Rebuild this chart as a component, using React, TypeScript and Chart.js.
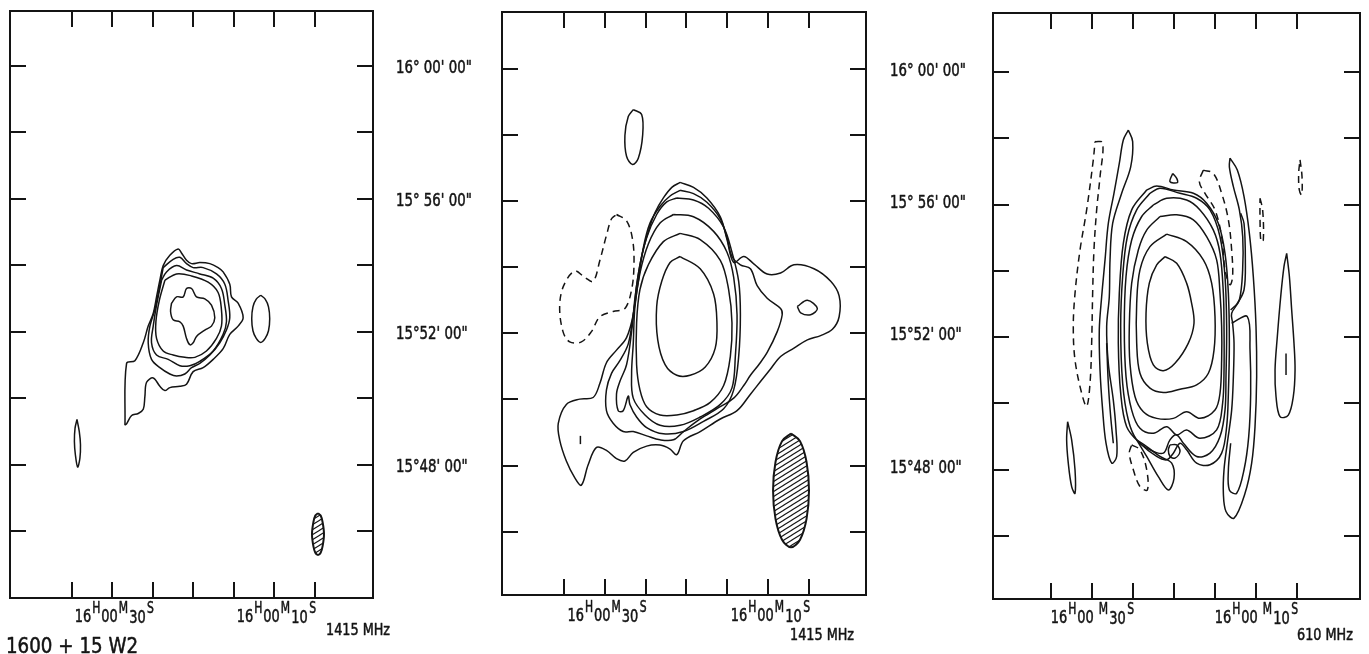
import React, { useEffect, useRef } from "react";
import { Chart, registerables } from "chart.js";

Chart.register(...registerables);

type Pt = [number, number];

// ---------- axis values ----------
const RA_TICKS = [40, 35, 30, 25, 20, 15, 10]; // seconds of RA (16h00m..s)
const DEC_TICKS = [60, 58, 56, 54, 52, 50, 48, 46]; // arcmin above 15 deg
const DEC_LABEL_VALUES = [60, 56, 52, 48];
const DEC_LABEL_TEXTS = ["16\u00b0 00' 00\"", "15\u00b0 56' 00\"", "15\u00b052' 00\"", "15\u00b048' 00\""];
const RA_LABEL_VALUES = [30, 10];
const RA_LABEL_SECONDS = ["30", "10"];
const FREQ_LABELS = ["1415 MHz", "1415 MHz", "610 MHz"];
const SOURCE_NAME = "1600 + 15 W2";

// ---------- panel 1 (1415 MHz) contours: [RA s, Dec arcmin] ----------
const P1_C1: Pt[] = [[33.46,49.19],[33.26,51.05],[32.23,51.13],[31.2,51.67],[30.59,52.17],[29.97,52.55],[29.56,53.05],[29.15,53.55],[28.74,53.99],[27.92,54.3],[26.89,54.49],[26.48,54.37],[25.86,54.15],[25.24,54.05],[24.22,54.08],[22.98,54.05],[21.96,53.93],[21.34,53.8],[20.52,53.43],[20.31,53.05],[19.49,52.86],[18.87,52.42],[19.49,52.17],[20.52,51.92],[21.34,51.49],[22.57,51.17],[23.81,50.92],[25.04,50.8],[25.86,50.42],[26.68,50.36],[27.92,50.32],[28.53,50.23],[29.15,50.36],[29.97,50.61],[30.79,50.48],[31.0,50.05],[31.2,49.67],[31.82,49.54],[32.64,49.48],[33.26,49.23]];
const P1_C2: Pt[] = [[28.74,53.93],[27.51,54.18],[26.68,54.24],[25.86,54.05],[25.04,53.93],[23.81,53.93],[22.16,53.74],[21.13,53.43],[20.72,52.93],[20.52,52.42],[20.93,52.05],[21.75,51.67],[22.98,51.3],[24.22,51.05],[25.24,50.92],[26.07,50.73],[27.09,50.67],[27.92,50.73],[29.15,50.92],[30.18,51.17],[30.59,51.67],[30.38,52.17],[29.77,52.67],[29.23,53.3]];
const P1_C3: Pt[] = [[28.94,53.55],[28.33,53.8],[27.09,53.99],[25.86,53.86],[24.22,53.74],[22.57,53.61],[21.55,53.3],[21.13,52.8],[20.93,52.3],[21.34,51.92],[22.57,51.42],[24.22,51.11],[25.45,50.98],[26.68,50.98],[28.12,51.17],[29.56,51.3],[30.18,51.67],[29.97,52.17],[29.56,52.8]];
const P1_C4: Pt[] = [[28.53,53.55],[27.09,53.74],[25.24,53.68],[23.19,53.49],[21.96,53.18],[21.55,52.67],[21.55,52.17],[22.16,51.8],[23.4,51.42],[24.83,51.23],[26.07,51.23],[27.51,51.3],[28.74,51.42],[29.56,51.8],[29.64,52.3],[29.23,52.93]];
const P1_C5: Pt[] = [[27.71,52.86],[27.09,53.05],[26.27,53.05],[25.86,53.3],[25.24,53.3],[24.63,53.05],[23.6,52.99],[22.78,52.8],[22.37,52.42],[22.78,52.17],[23.6,52.05],[24.63,51.86],[25.04,51.67],[25.45,51.61],[25.86,51.8],[26.27,52.17],[26.68,52.3],[27.51,52.36],[27.83,52.61]];
const P1_EAST: Pt[] = [[16.7,53.1],[16.15,52.98],[15.74,52.75],[15.59,52.39],[15.74,52.03],[16.15,51.8],[16.7,51.68],[17.25,51.8],[17.66,52.03],[17.81,52.39],[17.66,52.75],[17.25,52.98]];
const P1_WEST: Pt[] = [[39.38,49.36],[39.1,49.0],[38.95,48.6],[39.02,48.2],[39.3,47.93],[39.58,48.3],[39.7,48.7],[39.62,49.1]];
const P1_BEAM: Pt[] = [[9.63,46.54],[9.3,46.47],[9.06,46.27],[8.89,45.91],[9.06,45.55],[9.3,45.35],[9.63,45.28],[9.96,45.35],[10.2,45.55],[10.37,45.91],[10.2,46.27],[9.96,46.47]];

// ---------- panel 2 (1415 MHz) ----------
const P2_NORTH: Pt[] = [[31.52,58.76],[30.49,58.61],[30.37,57.98],[30.9,57.29],[31.6,57.1],[32.34,57.35],[32.54,57.98],[32.13,58.55]];
const P2_NEG: Pt[] = [[33.57,55.59],[32.34,55.4],[31.6,54.83],[31.43,54.07],[31.72,53.32],[32.54,52.75],[33.98,52.66],[35.61,52.5],[36.64,52.05],[37.87,51.74],[39.3,51.74],[40.12,52.05],[40.53,52.81],[40.04,53.44],[38.69,53.88],[37.46,53.69],[36.43,53.57],[35.61,54.2],[34.8,54.96],[34.18,55.46]];
const P2_M1: Pt[] = [[25.78,54.32],[23.32,53.95],[21.68,53.19],[21.27,52.31],[21.48,51.55],[22.7,50.98],[24.55,50.73],[26.19,50.73],[27.62,51.05],[28.52,51.8],[28.65,52.81],[28.03,53.57],[27.01,54.14]];
const P2_M2: Pt[] = [[25.78,55.02],[23.32,54.83],[20.86,54.2],[19.84,53.32],[19.43,52.31],[19.63,51.3],[20.45,50.42],[22.09,49.91],[24.14,49.66],[26.19,49.53],[28.24,49.53],[29.88,49.78],[30.7,50.29],[31.11,51.05],[31.11,52.31],[30.7,53.32],[29.67,54.07],[27.83,54.77]];
const P2_M3: Pt[] = [[26.6,55.59],[24.14,55.52],[21.68,55.08],[20.04,54.45],[19.22,53.69],[18.81,52.56],[19.02,51.3],[19.43,50.35],[20.86,49.85],[23.32,49.47],[25.78,49.22],[28.24,49.22],[30.08,49.53],[31.52,50.04],[31.72,50.79],[31.52,51.68],[31.31,52.81],[30.7,53.82],[29.67,54.7],[28.24,55.33]];
const P2_M4: Pt[] = [[26.19,56.09],[24.14,56.03],[22.3,55.78],[20.45,55.21],[19.43,54.45],[18.61,53.57],[18.4,52.56],[18.61,51.3],[19.22,50.29],[20.45,49.72],[22.91,49.34],[25.37,49.03],[27.83,48.96],[29.88,49.15],[31.11,49.47],[31.93,49.85],[32.13,50.1],[32.75,49.66],[33.36,49.66],[33.57,50.16],[33.16,50.54],[32.34,51.05],[31.72,52.05],[31.31,53.06],[30.7,54.07],[29.88,54.89],[28.65,55.59],[27.42,55.97]];
const P2_M5: Pt[] = [[25.78,56.32],[24.14,56.22],[22.5,55.96],[20.86,55.46],[20.04,54.89],[19.43,54.32],[18.4,54.07],[17.17,53.95],[16.35,53.44],[15.12,53.06],[13.48,52.75],[13.28,52.56],[13.89,52.05],[15.12,51.42],[16.15,51.05],[17.17,50.73],[17.99,50.42],[19.22,50.04],[21.27,49.72],[23.32,49.41],[25.37,49.03],[26.6,48.78],[28.24,48.78],[29.88,48.9],[31.52,49.03],[32.75,49.03],[33.98,49.28],[34.8,49.66],[34.8,50.29],[34.18,50.79],[33.16,51.17],[32.13,51.68],[31.52,52.56],[30.9,53.57],[30.29,54.58],[29.47,55.33],[28.24,55.84],[27.01,56.15]];
const P2_M6: Pt[] = [[25.78,56.56],[24.14,56.41],[22.5,56.09],[20.86,55.52],[20.04,54.83],[19.22,54.14],[17.99,54.32],[16.76,54.1],[15.12,53.79],[13.48,53.82],[11.84,54.07],[9.39,53.95],[7.34,53.57],[6.31,53.13],[6.31,52.5],[7.13,52.12],[8.57,51.93],[10.2,51.8],[11.84,51.55],[13.48,51.3],[14.71,50.92],[15.94,50.54],[17.17,50.16],[18.81,49.66],[20.86,49.41],[23.32,49.03],[25.37,48.75],[26.19,48.33],[27.01,48.5],[28.24,48.62],[29.88,48.59],[31.52,48.4],[32.54,48.14],[33.57,48.21],[34.8,48.46],[36.02,48.55],[37.05,48.02],[37.87,47.41],[38.69,47.64],[39.71,48.14],[40.53,48.78],[40.7,49.28],[39.71,49.85],[38.07,50.01],[36.43,50.06],[35.61,50.48],[34.8,51.11],[33.57,51.49],[32.34,51.87],[31.52,52.56],[31.11,53.44],[30.49,54.32],[29.67,55.08],[28.85,55.65],[27.83,56.09],[26.8,56.41]];
const P2_LOOP: Pt[] = [[11.43,52.81],[10.2,53.0],[8.98,52.75],[9.8,52.56],[11.02,52.62]];
const P2_BIT: Pt[] = [[37.99,48.9],[37.99,48.65]];
const P2_BEAM: Pt[] = [[12.2,48.97],[11.1,48.74],[10.3,48.11],[10.0,47.25],[10.3,46.39],[11.1,45.76],[12.2,45.53],[13.3,45.76],[14.1,46.39],[14.4,47.25],[14.1,48.11],[13.3,48.74]];

// ---------- panel 3 (610 MHz) ----------
const P3_K1: Pt[] = [[26.1,54.43],[24.67,54.23],[23.46,53.63],[22.85,53.02],[22.56,52.42],[23.25,51.82],[24.88,51.21],[26.3,50.99],[27.52,51.16],[28.25,51.82],[28.41,52.72],[28.01,53.63],[27.11,54.18]];
const P3_K2: Pt[] = [[25.89,55.11],[23.46,54.88],[21.42,54.33],[20.41,53.63],[20.0,52.62],[20.12,51.61],[20.81,50.91],[22.24,50.56],[24.27,50.43],[26.3,50.33],[27.93,50.46],[29.15,50.91],[29.55,51.82],[29.55,53.02],[29.15,54.03],[27.93,54.73]];
const P3_K3: Pt[] = [[26.71,55.64],[24.67,55.69],[22.64,55.54],[21.02,55.03],[19.8,54.33],[19.39,53.32],[19.19,52.32],[19.19,51.31],[19.39,50.31],[20.0,49.8],[21.83,49.55],[23.46,49.75],[25.08,49.55],[27.11,49.55],[28.74,49.75],[29.76,50.21],[30.37,51.21],[30.45,52.32],[30.16,53.63],[29.35,54.63],[28.33,55.23]];
const P3_K4: Pt[] = [[27.52,55.99],[25.89,56.19],[23.46,56.14],[21.83,55.84],[20.2,55.23],[19.39,54.53],[18.98,53.32],[18.9,52.32],[18.9,51.01],[19.07,50.01],[19.8,49.2],[21.83,48.95],[23.46,49.2],[24.67,49.05],[25.89,49.3],[27.52,49.1],[29.15,49.25],[30.16,49.8],[30.85,50.81],[31.06,52.32],[30.85,53.83],[30.16,54.93],[28.94,55.64]];
const P3_K5: Pt[] = [[27.93,56.34],[26.71,56.49],[24.27,56.34],[22.24,56.19],[20.61,55.84],[19.39,55.03],[18.78,53.83],[18.58,52.32],[18.66,50.81],[18.78,49.8],[19.39,49.0],[20.61,48.5],[22.24,48.4],[23.86,48.8],[24.67,49.05],[25.49,48.9],[26.3,48.5],[27.93,48.6],[29.55,48.9],[30.57,49.5],[31.26,50.61],[31.5,52.32],[31.26,53.83],[30.69,55.03],[29.55,55.84]];
const P3_K6: Pt[] = [[28.33,56.44],[27.11,56.56],[25.08,56.44],[22.64,56.34],[21.02,56.04],[19.59,55.43],[18.78,54.53],[18.37,53.32],[18.25,51.82],[18.37,50.31],[18.58,49.3],[19.19,48.5],[20.61,48.15],[22.24,48.2],[23.46,48.6],[24.27,48.8],[25.08,48.5],[25.89,48.3],[27.11,48.4],[29.15,48.8],[30.77,49.3],[31.5,50.31],[31.79,51.82],[31.67,53.32],[31.18,54.83],[30.16,55.84]];
const P3_RING: Pt[] = [[25.49,48.75],[24.67,48.75],[24.27,48.55],[24.88,48.35],[25.49,48.4],[25.69,48.6]];
const P3_TAIL: Pt[] = [[29.55,48.9],[28.33,48.4],[26.91,47.79],[25.69,47.39],[25.0,47.74],[25.28,48.2],[26.71,48.4],[28.33,48.7]];
const P3_EAST_OUT: Pt[] = [[18.17,57.4],[17.28,57.04],[16.46,56.24],[15.81,55.13],[15.33,53.83],[15.0,52.32],[14.92,50.81],[15.12,49.3],[15.53,48.2],[16.34,47.29],[17.68,46.54],[18.66,46.74],[18.98,47.29],[18.9,48.0],[18.5,48.8],[17.97,49.8],[17.76,50.81],[17.68,51.82],[17.85,52.42],[17.97,52.72],[17.03,53.12],[16.63,54.03],[16.62,55.03],[17.03,55.84],[17.76,56.54],[18.25,57.14]];
const P3_EAST_IN1: Pt[] = [[16.87,55.74],[16.46,55.43],[16.3,54.33],[16.46,53.43],[17.28,53.02],[18.09,52.82]];
const P3_EAST_IN2: Pt[] = [[17.97,52.42],[16.06,52.62],[15.73,51.61],[15.65,50.31],[15.89,49.0],[16.46,48.0],[17.36,47.29],[18.25,47.39],[18.37,48.0],[18.09,48.8]];
const P3_NEG_E: Pt[] = [[21.42,57.04],[20.2,56.94],[19.19,56.34],[18.37,55.54],[17.97,54.63],[17.85,53.83],[18.17,53.58],[18.78,54.03],[19.19,55.03],[20.0,55.84],[21.22,56.34],[21.91,56.69]];
const P3_NEG_W: Pt[] = [[34.63,57.9],[33.7,57.87],[34.02,56.84],[34.43,55.84],[34.76,54.63],[34.92,53.32],[35.04,51.82],[35.24,50.61],[35.65,49.91],[36.26,50.31],[37.07,51.31],[37.28,52.32],[37.07,53.32],[36.46,54.63],[35.65,55.84],[34.84,57.35]];
const P3_WEST_LOBE: Pt[] = [[30.57,58.25],[30.04,57.9],[30.28,57.14],[31.38,56.34],[32.48,55.43],[32.8,54.33],[32.89,53.22],[33.21,52.32],[33.01,51.21],[32.4,50.1],[32.07,49.2],[31.99,48.4],[32.6,48.2],[33.29,48.8],[33.7,49.8],[34.02,51.01],[34.11,52.22],[33.82,53.22],[33.41,54.33],[33.01,55.43],[32.32,56.34],[31.67,57.24],[31.18,57.95]];
const P3_WEST_IN: Pt[] = [[33.21,51.82],[33.01,50.61],[32.72,49.6],[32.4,48.8]];
const P3_FAR_W: Pt[] = [[37.97,49.45],[37.48,48.9],[37.07,48.0],[37.07,47.29],[37.48,47.49],[37.89,48.2],[38.09,48.9]];
const P3_NEG_S: Pt[] = [[30.16,48.75],[29.15,48.6],[28.33,48.0],[28.25,47.39],[29.15,47.49],[29.96,48.0],[30.45,48.5]];
const P3_NORTH_BIT: Pt[] = [[25.16,56.94],[24.67,56.79],[24.59,56.66],[25.49,56.69]];
const P3_NEG_E2: Pt[] = [[14.51,56.19],[14.19,55.84],[14.11,54.93],[14.39,54.88],[14.51,55.54]];
const P3_NEG_E3: Pt[] = [[9.63,57.35],[9.39,56.84],[9.43,56.29],[9.72,56.44],[9.8,56.94]];
const P3_FAR_E: Pt[] = [[11.26,54.53],[10.93,53.83],[10.65,52.82],[10.37,51.82],[10.24,51.01],[10.45,50.21],[11.06,49.65],[12.07,49.6],[12.56,50.21],[12.68,51.01],[12.4,52.02],[11.99,53.22],[11.59,54.13]];
const P3_FAR_E_IN: Pt[] = [[11.34,51.51],[11.34,50.86]];

// ---------- layout / style (not data) ----------
const FONT = '"DejaVu Sans", "Liberation Sans", sans-serif';
const INK = "#141414";
const TICK = 16;

type Contour = { pts: Pt[]; dashed?: boolean; open?: boolean; hatch?: boolean };

const PANEL_CONTOURS: Contour[][] = [
  [
    { pts: P1_C1 }, { pts: P1_C2 }, { pts: P1_C3 }, { pts: P1_C4 }, { pts: P1_C5 },
    { pts: P1_EAST }, { pts: P1_WEST }, { pts: P1_BEAM, hatch: true },
  ],
  [
    { pts: P2_NORTH }, { pts: P2_NEG, dashed: true },
    { pts: P2_M1 }, { pts: P2_M2 }, { pts: P2_M3 }, { pts: P2_M4 }, { pts: P2_M5 }, { pts: P2_M6 },
    { pts: P2_LOOP }, { pts: P2_BIT, open: true }, { pts: P2_BEAM, hatch: true },
  ],
  [
    { pts: P3_K1 }, { pts: P3_K2 }, { pts: P3_K3 }, { pts: P3_K4 }, { pts: P3_K5 }, { pts: P3_K6 },
    { pts: P3_RING }, { pts: P3_TAIL }, { pts: P3_EAST_OUT },
    { pts: P3_EAST_IN1, open: true }, { pts: P3_EAST_IN2, open: true },
    { pts: P3_NEG_E, dashed: true }, { pts: P3_NEG_W, dashed: true },
    { pts: P3_WEST_LOBE }, { pts: P3_WEST_IN, open: true }, { pts: P3_FAR_W },
    { pts: P3_NEG_S, dashed: true }, { pts: P3_NORTH_BIT },
    { pts: P3_NEG_E2, dashed: true }, { pts: P3_NEG_E3, dashed: true },
    { pts: P3_FAR_E }, { pts: P3_FAR_E_IN, open: true },
  ],
];

type PanelLayout = {
  left: number; width: number;
  pad: { left: number; top: number; right: number; bottom: number };
  xr: [number, number]; yr: [number, number];
  decLabelX: number | null;
  freqX: number; freqY: number; raBase: number; raGapM: number;
  showName: boolean;
};

const LAYOUTS: PanelLayout[] = [
  { left: 0, width: 480, pad: { left: 10, top: 11, right: 107, bottom: 56 }, xr: [2.84, 47.65], yr: [43.99, 61.65], decLabelX: 396, freqX: 326, freqY: 635, raBase: 622, raGapM: 1, showName: true },
  { left: 480, width: 500, pad: { left: 22, top: 12, right: 114, bottom: 59 }, xr: [3.02, 47.59], yr: [44.09, 61.71], decLabelX: 410, freqX: 310, freqY: 640, raBase: 621, raGapM: 1, showName: false },
  { left: 980, width: 389, pad: { left: 13, top: 13, right: 9, bottom: 55 }, xr: [2.32, 47.07], yr: [44.1, 61.78], decLabelX: null, freqX: 317, freqY: 640, raBase: 623, raGapM: 5, showName: false },
];

function drawText(ctx: CanvasRenderingContext2D, text: string, x: number, y: number, size: number, sx: number) {
  ctx.font = `${size}px ${FONT}`;
  const w = ctx.measureText(text).width * sx;
  ctx.save();
  ctx.translate(x, y);
  ctx.scale(sx, 1);
  ctx.textAlign = "left";
  ctx.textBaseline = "alphabetic";
  ctx.lineWidth = 0.55;
  ctx.lineJoin = "round";
  ctx.fillText(text, 0, 0);
  ctx.strokeText(text, 0, 0);
  ctx.restore();
  return w;
}

function measure(ctx: CanvasRenderingContext2D, text: string, size: number, sx: number) {
  ctx.font = `${size}px ${FONT}`;
  return ctx.measureText(text).width * sx;
}

function makeHatch(): CanvasPattern | string {
  const c = document.createElement("canvas");
  c.width = 8;
  c.height = 5;
  const g = c.getContext("2d");
  if (!g) return INK;
  g.strokeStyle = INK;
  g.lineWidth = 1.1;
  g.beginPath();
  for (let k = -1; k <= 1; k++) {
    g.moveTo(-1, 5 + k * 5 + 0.625);
    g.lineTo(9, k * 5 - 0.625);
  }
  g.stroke();
  return g.createPattern(c, "repeat") || INK;
}

function framePlugin(layout: PanelLayout, index: number) {
  return {
    id: "frameAndLabels" + index,
    afterDatasetsDraw(chart: any) {
      const ctx: CanvasRenderingContext2D = chart.ctx;
      const a = chart.chartArea;
      const xs = chart.scales.x;
      const ys = chart.scales.y;
      ctx.save();
      ctx.strokeStyle = INK;
      ctx.fillStyle = INK;
      ctx.lineWidth = 2;
      ctx.lineCap = "butt";
      ctx.strokeRect(a.left, a.top, a.right - a.left, a.bottom - a.top);
      ctx.beginPath();
      RA_TICKS.forEach((v) => {
        const px = Math.round(xs.getPixelForValue(v));
        ctx.moveTo(px, a.top);
        ctx.lineTo(px, a.top + TICK);
        ctx.moveTo(px, a.bottom);
        ctx.lineTo(px, a.bottom - TICK);
      });
      DEC_TICKS.forEach((v) => {
        const py = Math.round(ys.getPixelForValue(v));
        ctx.moveTo(a.left, py);
        ctx.lineTo(a.left + TICK, py);
        ctx.moveTo(a.right, py);
        ctx.lineTo(a.right - TICK, py);
      });
      ctx.stroke();

      // declination labels
      if (layout.decLabelX !== null) {
        DEC_LABEL_VALUES.forEach((v, i) => {
          const py = ys.getPixelForValue(v);
          drawText(ctx, DEC_LABEL_TEXTS[i], layout.decLabelX as number, py + 7, 18, 0.74);
        });
      }

      // right ascension labels with raised unit letters
      RA_LABEL_VALUES.forEach((v, i) => {
        const px = xs.getPixelForValue(v);
        const parts = [
          { t: "16", s: 18, dy: 0, g: 0 },
          { t: "H", s: 15, dy: -9, g: 1 },
          { t: "00", s: 18, dy: 0, g: 1 },
          { t: "M", s: 15, dy: -9, g: layout.raGapM },
          { t: RA_LABEL_SECONDS[i], s: 18, dy: 1, g: 1 },
          { t: "S", s: 15, dy: -9, g: 1.5 },
        ];
        const sx = 0.72;
        let total = 0;
        parts.forEach((p) => {
          total += measure(ctx, p.t, p.s, sx) + p.g;
        });
        let x = px + 1 - total;
        parts.forEach((p) => {
          x += p.g;
          const w = drawText(ctx, p.t, x, layout.raBase + p.dy, p.s, sx);
          x += w;
        });
      });

      drawText(ctx, FREQ_LABELS[index], layout.freqX, layout.freqY, 16, 0.8);
      if (layout.showName) drawText(ctx, SOURCE_NAME, 6, 653, 22, 0.83);
      ctx.restore();
    },
  };
}

function Panel({ index }: { index: number }) {
  const ref = useRef<HTMLCanvasElement | null>(null);
  const layout = LAYOUTS[index];
  useEffect(() => {
    if (!ref.current) return;
    const hatch = makeHatch();
    const datasets = PANEL_CONTOURS[index].map((c) => {
      const pts = c.open ? c.pts : [...c.pts, c.pts[0]];
      return {
        data: pts.map(([x, y]) => ({ x, y })),
        showLine: true,
        pointRadius: 0,
        pointHoverRadius: 0,
        borderColor: INK,
        borderWidth: c.hatch ? 2 : 1.5,
        borderDash: c.dashed ? [7, 5] : [],
        tension: 0.35,
        fill: c.hatch ? "shape" : false,
        backgroundColor: c.hatch ? hatch : "transparent",
      };
    });
    const chart = new Chart(ref.current, {
      type: "scatter",
      data: { datasets: datasets as any },
      options: {
        animation: false,
        responsive: false,
        devicePixelRatio: 1,
        events: [],
        layout: { padding: layout.pad },
        plugins: { legend: { display: false }, tooltip: { enabled: false }, title: { display: false } },
        scales: {
          x: { type: "linear", min: layout.xr[0], max: layout.xr[1], reverse: true, display: false },
          y: { type: "linear", min: layout.yr[0], max: layout.yr[1], display: false },
        },
      },
      plugins: [framePlugin(layout, index)],
    });
    return () => chart.destroy();
  }, [index]);
  return (
    <canvas
      ref={ref}
      width={layout.width}
      height={654}
      style={{ position: "absolute", left: layout.left, top: 0, width: layout.width, height: 654 }}
    />
  );
}

export default function App() {
  return (
    <div style={{ position: "fixed", left: 0, top: 0, width: 1369, height: 654, background: "#fff", overflow: "hidden" }}>
      <Panel index={0} />
      <Panel index={1} />
      <Panel index={2} />
    </div>
  );
}
